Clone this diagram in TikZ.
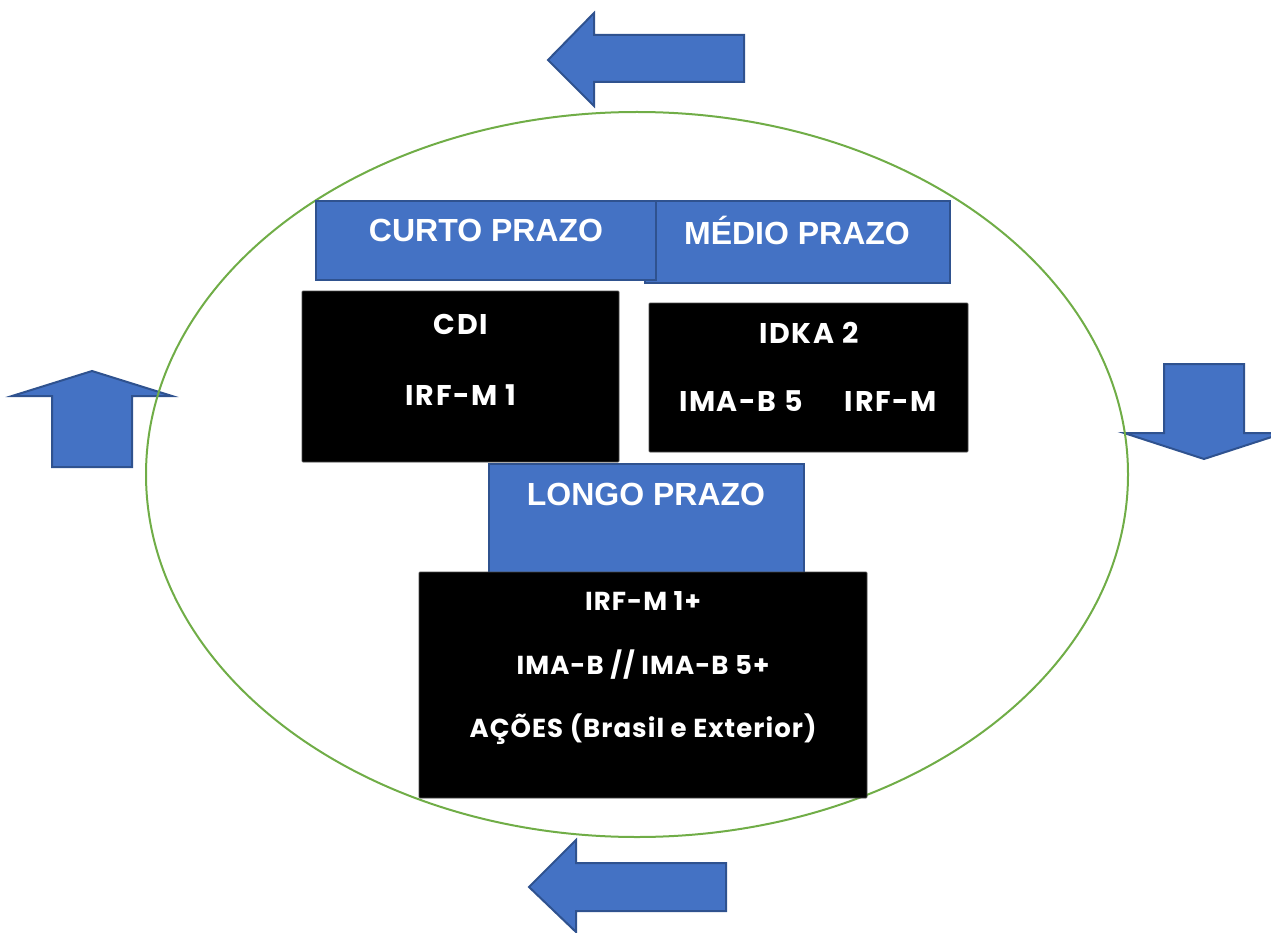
\documentclass[tikz,border=0pt]{standalone}
\usepackage{fontspec}
\setmainfont{Liberation Sans}
\newfontfamily\blackfont{Poppins}[BoldFont={* Bold}]
\newfontfamily\blackfontA{Poppins}[BoldFont={* Bold},LetterSpace=6]
\newfontfamily\blackfontB{Poppins}[BoldFont={* Bold},LetterSpace=4]
\definecolor{arrowblue}{HTML}{4472C4}
\definecolor{arrowedge}{HTML}{2F528F}
\definecolor{ringgreen}{HTML}{70AD47}
\begin{document}
\begin{tikzpicture}[x=1pt,y=-1pt,
  bluearrow/.style={fill=arrowblue,draw=arrowedge,line width=2pt,line join=miter},
  headerbox/.style={fill=arrowblue,draw=arrowedge,line width=1.5pt,inner sep=0pt,outer sep=0pt,anchor=north west},
  blackbox/.style={fill=black,draw=black!70,line width=0.8pt,rounded corners=1pt,inner sep=0pt,outer sep=0pt,anchor=north west},
  headertext/.style={text=white,font=\fontsize{32}{34}\selectfont\bfseries,inner sep=0pt},
  bigtext/.style={text=white,font=\blackfontA\fontsize{28.5}{30}\selectfont\bfseries,inner sep=0pt},
  smalltext/.style={text=white,font=\blackfontB\fontsize{26}{28}\selectfont\bfseries,inner sep=0pt}]
\useasboundingbox (0,0) rectangle (1271,933);
\clip (0,0) rectangle (1271,933);
% arrows
\draw[bluearrow] (548,60) -- (594,13) -- (594,35) -- (744,35) -- (744,82) -- (594,82) -- (594,106) -- cycle;
\draw[bluearrow] (529,887) -- (576,840) -- (576,863) -- (726,863) -- (726,911) -- (576,911) -- (576,932) -- cycle;
\draw[bluearrow] (92,371) -- (172,396) -- (132,396) -- (132,467) -- (52,467) -- (52,396) -- (12,396) -- cycle;
\draw[bluearrow] (1204,459) -- (1284,433) -- (1244,433) -- (1244,364) -- (1164,364) -- (1164,433) -- (1124,433) -- cycle;
% ring
\draw[ringgreen,line width=2pt] (637,474.5) ellipse [x radius=491,y radius=362.5];
% header boxes
\node[headerbox,minimum width=305pt,minimum height=82pt] (medio) at (645,201) {};
\node[headerbox,minimum width=340pt,minimum height=79pt] (curto) at (316,201) {};
\node[headertext] (curtot) at (486,230) {CURTO PRAZO};
\node[headertext] (mediot) at (797,230) {MÉDIO PRAZO};
% short and medium boxes
\node[blackbox,minimum width=317pt,minimum height=171pt] (cdibox) at (302,291) {};
\node[bigtext] (cdi) at (461,324) {CDI};
\node[bigtext] (irfm1) at (461,395) {IRF-M 1};
\node[blackbox,minimum width=319pt,minimum height=149pt] (idkabox) at (649,303) {};
\node[bigtext] (idka) at (809,333) {IDKA 2};
\node[bigtext] (imab5) at (741,401) {IMA-B 5};
\node[bigtext] (irfm) at (891,401) {IRF-M};
% long term
\node[headerbox,minimum width=315pt,minimum height=112pt] (longo) at (489,464) {};
\node[headertext] (longot) at (646,494) {LONGO PRAZO};
\node[blackbox,minimum width=448pt,minimum height=226pt] (longbox) at (419,572) {};
\node[smalltext] (irfm1p) at (643,601) {IRF-M 1+};
\node[smalltext] (imab) at (643,665) {IMA-B // IMA-B 5+};
\node[smalltext] (acoes) at (643,729) {AÇÕES (Brasil e Exterior)};
\end{tikzpicture}
\end{document}
